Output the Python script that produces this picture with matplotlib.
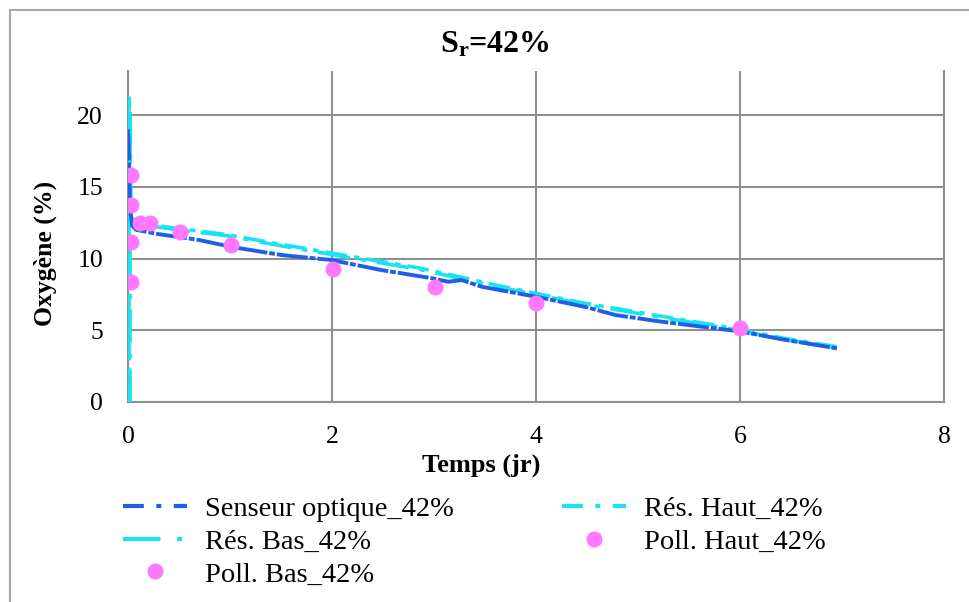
import matplotlib
matplotlib.use("Agg")
import matplotlib.pyplot as plt
from matplotlib.lines import Line2D
from matplotlib.patches import Rectangle

plt.rcParams['font.family'] = ['Liberation Serif', 'DejaVu Serif']
plt.rcParams['mathtext.fontset'] = 'custom'
plt.rcParams['mathtext.rm'] = 'Liberation Serif'
plt.rcParams['mathtext.bf'] = 'Liberation Serif:bold'
plt.rcParams['mathtext.it'] = 'Liberation Serif:italic'

# ---- data ----
senseur_t = [0.0, 0.01, 0.02, 0.04, 0.08, 0.3, 0.69, 1.02, 1.51, 1.99, 2.48, 2.97,
             3.14, 3.27, 3.47, 4.0, 4.5, 4.78, 5.23, 6.02, 6.41, 6.95]
senseur_o2 = [19.0, 17.0, 13.5, 12.3, 12.0, 11.7, 11.3, 10.8, 10.24, 9.9, 9.2, 8.64,
              8.38, 8.5, 8.03, 7.34, 6.6, 6.06, 5.6, 4.9, 4.37, 3.74]

res_haut_t = [0.01, 0.01, 0.02, 0.1, 0.43, 0.96, 1.41, 1.94, 2.39, 2.85, 3.3, 3.57,
              4.45, 5.43, 5.92, 6.41, 6.95]
res_haut_o2 = [0.0, 21.2, 12.9, 12.5, 12.15, 11.68, 11.1, 10.45, 9.9, 9.35, 8.65, 8.2,
               6.92, 5.74, 5.17, 4.47, 3.85]

res_bas_t = [0.02, 0.02, 0.03, 0.1, 0.43, 0.96, 1.41, 1.94, 2.39, 2.85, 3.3, 3.57,
             4.45, 5.43, 5.92, 6.41, 6.95]
res_bas_o2 = [0.0, 20.5, 12.8, 12.4, 12.05, 11.6, 11.0, 10.35, 9.8, 9.25, 8.55, 8.1,
              6.84, 5.66, 5.09, 4.39, 3.77]

poll_haut_t = [0.03, 0.03, 0.12, 0.51, 2.01, 4.0]
poll_haut_o2 = [15.8, 11.17, 12.45, 11.87, 9.3, 6.92]
poll_bas_t = [0.03, 0.03, 0.22, 1.01, 3.01, 6.0]
poll_bas_o2 = [13.7, 8.38, 12.45, 10.94, 8.0, 5.13]

labels = ["Senseur optique_42%", "Rés. Haut_42%", "Rés. Bas_42%",
          "Poll. Haut_42%", "Poll. Bas_42%"]
xticks = [0, 2, 4, 6, 8]
yticks = [0, 5, 10, 15, 20]

BLUE = '#1f5fe8'
CYAN = '#19e3f2'
PINK = '#ff78ff'
GRID = '#8f8f8f'

fig = plt.figure(figsize=(9.69, 6.02), dpi=100)
W, H = 969, 602
ax = fig.add_axes([128 / W, 1 - 402 / H, (944 - 128) / W, (402 - 71) / H])

# outer chart border
fig.add_artist(Rectangle((10 / W, -0.05), 1.1, 1 - 10 / H + 0.05,
                         transform=fig.transFigure, fill=False,
                         edgecolor='#a6a6a6', linewidth=1.5))

l_haut, = ax.plot(res_haut_t, res_haut_o2, color=CYAN, lw=2.6,
                  linestyle=(0, (6, 2, 1.5, 2)), label=labels[1], zorder=3)
l_bas, = ax.plot(res_bas_t, res_bas_o2, color=CYAN, lw=2.6,
                 linestyle=(0, (9, 3, 1.5, 3)), label=labels[2], zorder=3)
l_sen, = ax.plot(senseur_t, senseur_o2, color=BLUE, lw=2.8,
                 linestyle=(0, (8, 0.5, 1.5, 0.5)), label=labels[0], zorder=4)
p_haut, = ax.plot(poll_haut_t, poll_haut_o2, 'o', color=PINK, ms=11.5,
                  markeredgewidth=0, label=labels[3], zorder=5)
p_bas, = ax.plot(poll_bas_t, poll_bas_o2, 'o', color=PINK, ms=11.5,
                 markeredgewidth=0, label=labels[4], zorder=5)

ax.set_xlim(0, 8)
ax.set_ylim(0, 23.07)
ax.set_xticks(xticks)
ax.set_yticks(yticks)
ax.set_xticklabels([str(v) for v in xticks])
ax.set_yticklabels([str(v) for v in yticks])
ax.tick_params(length=0, labelsize=18.5)
ax.tick_params(axis='y', pad=18)
ax.tick_params(axis='x', pad=17)
ax.grid(True, color=GRID, lw=1.5)
ax.set_axisbelow(True)
for s in ['left', 'bottom', 'right']:
    ax.spines[s].set_color(GRID)
    ax.spines[s].set_linewidth(1.5)
ax.spines['top'].set_visible(False)

fig.text(495 / W, 1 - 45 / H, r'$\mathbf{S_r}$=42%', ha='center', va='center',
         fontsize=23, fontweight='bold')
fig.text(481 / W, 1 - 465 / H, 'Temps (jr)', ha='center', va='center',
         fontsize=19, fontweight='bold')
fig.text(45 / W, 1 - 253 / H, 'Oxygène (%)', ha='center', va='center',
         rotation=90, fontsize=18.5, fontweight='bold')

leg_handles = [Line2D([], [], color=BLUE, lw=3, linestyle=(0, (5, 3, 1.2, 3))),
               Line2D([], [], color=CYAN, lw=3, linestyle=(0, (9, 4, 1.2, 4))),
               p_bas,
               Line2D([], [], color=CYAN, lw=3, linestyle=(0, (5, 3, 1.2, 3))),
               p_haut]
leg_labels = [labels[0], labels[2], labels[4], labels[1], labels[3]]
fig.legend(leg_handles, leg_labels, loc='upper left',
           bbox_to_anchor=(123 / W, 1 - 496 / H), ncol=2, frameon=False,
           fontsize=20.5, handlelength=2.25, handletextpad=0.63,
           columnspacing=3.8, labelspacing=0.24, borderpad=0, borderaxespad=0)

fig.savefig('out.png', dpi=100)
